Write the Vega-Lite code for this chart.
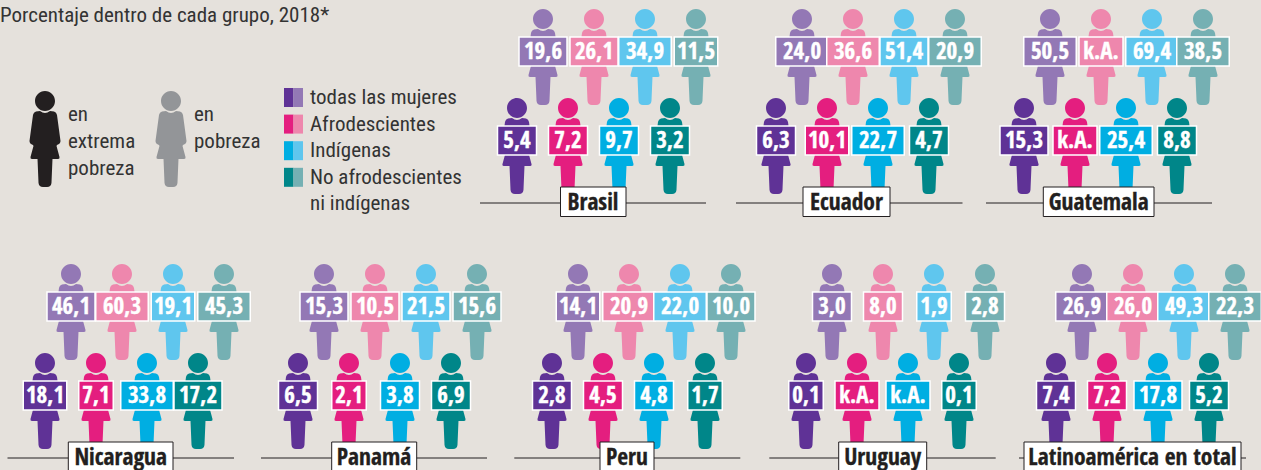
{"$schema":"https://vega.github.io/schema/vega-lite/v6.json","background":"#e5e1dc","padding":0,"spacing":0,
"data":{"values":[
{"pais":"Brasil","grupo":"todas las mujeres","nivel":"pobreza","valor":19.6},{"pais":"Brasil","grupo":"Afrodescientes","nivel":"pobreza","valor":26.1},{"pais":"Brasil","grupo":"Indígenas","nivel":"pobreza","valor":34.9},{"pais":"Brasil","grupo":"No afrodescientes","nivel":"pobreza","valor":11.5},
{"pais":"Brasil","grupo":"todas las mujeres","nivel":"extrema","valor":5.4},{"pais":"Brasil","grupo":"Afrodescientes","nivel":"extrema","valor":7.2},{"pais":"Brasil","grupo":"Indígenas","nivel":"extrema","valor":9.7},{"pais":"Brasil","grupo":"No afrodescientes","nivel":"extrema","valor":3.2},
{"pais":"Ecuador","grupo":"todas las mujeres","nivel":"pobreza","valor":24.0},{"pais":"Ecuador","grupo":"Afrodescientes","nivel":"pobreza","valor":36.6},{"pais":"Ecuador","grupo":"Indígenas","nivel":"pobreza","valor":51.4},{"pais":"Ecuador","grupo":"No afrodescientes","nivel":"pobreza","valor":20.9},
{"pais":"Ecuador","grupo":"todas las mujeres","nivel":"extrema","valor":6.3},{"pais":"Ecuador","grupo":"Afrodescientes","nivel":"extrema","valor":10.1},{"pais":"Ecuador","grupo":"Indígenas","nivel":"extrema","valor":22.7},{"pais":"Ecuador","grupo":"No afrodescientes","nivel":"extrema","valor":4.7},
{"pais":"Guatemala","grupo":"todas las mujeres","nivel":"pobreza","valor":50.5},{"pais":"Guatemala","grupo":"Afrodescientes","nivel":"pobreza","valor":null},{"pais":"Guatemala","grupo":"Indígenas","nivel":"pobreza","valor":69.4},{"pais":"Guatemala","grupo":"No afrodescientes","nivel":"pobreza","valor":38.5},
{"pais":"Guatemala","grupo":"todas las mujeres","nivel":"extrema","valor":15.3},{"pais":"Guatemala","grupo":"Afrodescientes","nivel":"extrema","valor":null},{"pais":"Guatemala","grupo":"Indígenas","nivel":"extrema","valor":25.4},{"pais":"Guatemala","grupo":"No afrodescientes","nivel":"extrema","valor":8.8},
{"pais":"Nicaragua","grupo":"todas las mujeres","nivel":"pobreza","valor":46.1},{"pais":"Nicaragua","grupo":"Afrodescientes","nivel":"pobreza","valor":60.3},{"pais":"Nicaragua","grupo":"Indígenas","nivel":"pobreza","valor":19.1},{"pais":"Nicaragua","grupo":"No afrodescientes","nivel":"pobreza","valor":45.3},
{"pais":"Nicaragua","grupo":"todas las mujeres","nivel":"extrema","valor":18.1},{"pais":"Nicaragua","grupo":"Afrodescientes","nivel":"extrema","valor":7.1},{"pais":"Nicaragua","grupo":"Indígenas","nivel":"extrema","valor":33.8},{"pais":"Nicaragua","grupo":"No afrodescientes","nivel":"extrema","valor":17.2},
{"pais":"Panamá","grupo":"todas las mujeres","nivel":"pobreza","valor":15.3},{"pais":"Panamá","grupo":"Afrodescientes","nivel":"pobreza","valor":10.5},{"pais":"Panamá","grupo":"Indígenas","nivel":"pobreza","valor":21.5},{"pais":"Panamá","grupo":"No afrodescientes","nivel":"pobreza","valor":15.6},
{"pais":"Panamá","grupo":"todas las mujeres","nivel":"extrema","valor":6.5},{"pais":"Panamá","grupo":"Afrodescientes","nivel":"extrema","valor":2.1},{"pais":"Panamá","grupo":"Indígenas","nivel":"extrema","valor":3.8},{"pais":"Panamá","grupo":"No afrodescientes","nivel":"extrema","valor":6.9},
{"pais":"Peru","grupo":"todas las mujeres","nivel":"pobreza","valor":14.1},{"pais":"Peru","grupo":"Afrodescientes","nivel":"pobreza","valor":20.9},{"pais":"Peru","grupo":"Indígenas","nivel":"pobreza","valor":22.0},{"pais":"Peru","grupo":"No afrodescientes","nivel":"pobreza","valor":10.0},
{"pais":"Peru","grupo":"todas las mujeres","nivel":"extrema","valor":2.8},{"pais":"Peru","grupo":"Afrodescientes","nivel":"extrema","valor":4.5},{"pais":"Peru","grupo":"Indígenas","nivel":"extrema","valor":4.8},{"pais":"Peru","grupo":"No afrodescientes","nivel":"extrema","valor":1.7},
{"pais":"Uruguay","grupo":"todas las mujeres","nivel":"pobreza","valor":3.0},{"pais":"Uruguay","grupo":"Afrodescientes","nivel":"pobreza","valor":8.0},{"pais":"Uruguay","grupo":"Indígenas","nivel":"pobreza","valor":1.9},{"pais":"Uruguay","grupo":"No afrodescientes","nivel":"pobreza","valor":2.8},
{"pais":"Uruguay","grupo":"todas las mujeres","nivel":"extrema","valor":0.1},{"pais":"Uruguay","grupo":"Afrodescientes","nivel":"extrema","valor":null},{"pais":"Uruguay","grupo":"Indígenas","nivel":"extrema","valor":null},{"pais":"Uruguay","grupo":"No afrodescientes","nivel":"extrema","valor":0.1},
{"pais":"Latinoamérica en total","grupo":"todas las mujeres","nivel":"pobreza","valor":26.9},{"pais":"Latinoamérica en total","grupo":"Afrodescientes","nivel":"pobreza","valor":26.0},{"pais":"Latinoamérica en total","grupo":"Indígenas","nivel":"pobreza","valor":49.3},{"pais":"Latinoamérica en total","grupo":"No afrodescientes","nivel":"pobreza","valor":22.3},
{"pais":"Latinoamérica en total","grupo":"todas las mujeres","nivel":"extrema","valor":7.4},{"pais":"Latinoamérica en total","grupo":"Afrodescientes","nivel":"extrema","valor":7.2},{"pais":"Latinoamérica en total","grupo":"Indígenas","nivel":"extrema","valor":17.8},{"pais":"Latinoamérica en total","grupo":"No afrodescientes","nivel":"extrema","valor":5.2}
]},
"transform":[
{"calculate":"indexof(['todas las mujeres','Afrodescientes','Indígenas','No afrodescientes'],datum.grupo)*51+(datum.nivel=='pobreza'?26:0)","as":"xc"},
{"calculate":"datum.nivel=='pobreza'?57:146","as":"yc"},
{"calculate":"datum.grupo+'|'+datum.nivel","as":"clave"},
{"calculate":"datum.valor==null?'k.A.':replace(format(datum.valor,'.1f'),'.',',')","as":"etiqueta"},
{"calculate":"datum.etiqueta=='k.A.'?44:(length(datum.etiqueta)-1)*13.5+12-4.5*(length(split(datum.etiqueta,'1'))-1)","as":"ancho"},
{"calculate":"datum.xc-datum.ancho/2","as":"x0"},{"calculate":"datum.xc+datum.ancho/2","as":"x1"},
{"calculate":"datum.yc-20","as":"y0"},{"calculate":"datum.yc+9","as":"y1"},{"calculate":"datum.yc-5.5","as":"yt"}
],
"vconcat":[
{"spacing":0,"hconcat":[
{"width":475,"height":255,"data":{"values":[{"grupo":"todas las mujeres","nivel":"extrema"},{"grupo":"todas las mujeres","nivel":"pobreza"},{"grupo":"Afrodescientes","nivel":"extrema"},{"grupo":"Afrodescientes","nivel":"pobreza"},{"grupo":"Indígenas","nivel":"extrema"},{"grupo":"Indígenas","nivel":"pobreza"},{"grupo":"No afrodescientes","nivel":"extrema"},{"grupo":"No afrodescientes","nivel":"pobreza"}]},
"transform":[{"calculate":"indexof(['todas las mujeres','Afrodescientes','Indígenas','No afrodescientes'],datum.grupo)","as":"fila"},{"calculate":"datum.grupo+'|'+datum.nivel","as":"clave"},{"calculate":"datum.nivel=='extrema'?284:293.5","as":"x0"},{"calculate":"datum.x0+9.5","as":"x1"},{"calculate":"88+26.6*datum.fila","as":"y0"},{"calculate":"datum.y0+19","as":"y1"}],
"layer":[
{"mark":"rect","encoding":{"x":{"field":"x0","type":"quantitative","scale":{"domain":[0,475],"nice":false}},"x2":{"field":"x1"},"y":{"field":"y0","type":"quantitative","scale":{"domain":[255,0],"nice":false}},"y2":{"field":"y1"},"color":{"field":"clave","type":"nominal"}}},
{"data":{"values":[{"titulo":"Porcentaje dentro de cada grupo, 2018*"}]},"mark":{"type":"text","style":"leyenda","fill":"#333333"},"encoding":{"x":{"datum":0},"y":{"datum":16},"text":{"field":"titulo"}}},
{"data":{"values":[{"linea":0,"texto":"todas las mujeres"},{"linea":1,"texto":"Afrodescientes"},{"linea":2,"texto":"Indígenas"},{"linea":3,"texto":"No afrodescientes"},{"linea":4,"texto":"ni indígenas"}]},"transform":[{"calculate":"98+26.6*datum.linea","as":"yl"}],"mark":{"type":"text","style":"leyenda","fill":"#333333"},"encoding":{"x":{"datum":310},"y":{"field":"yl","type":"quantitative"},"text":{"field":"texto"}}},
{"data":{"values":[{"nivel":"extrema"},{"nivel":"pobreza"}]},"transform":[{"calculate":"datum.nivel=='extrema'?45:171","as":"xp"}],"mark":"point","encoding":{"x":{"field":"xp","type":"quantitative"},"y":{"datum":139},"color":{"field":"nivel","type":"nominal","scale":{"domain":["extrema","pobreza"],"range":["#231f20","#939598"]}}}},
{"data":{"values":[{"nivel":"extrema","linea":0,"texto":"en"},{"nivel":"extrema","linea":1,"texto":"extrema"},{"nivel":"extrema","linea":2,"texto":"pobreza"},{"nivel":"pobreza","linea":0,"texto":"en"},{"nivel":"pobreza","linea":1,"texto":"pobreza"}]},"transform":[{"calculate":"datum.nivel=='extrema'?68:194","as":"xl"},{"calculate":"115+27*datum.linea","as":"yl"}],"mark":{"type":"text","style":"leyenda","fill":"#333333"},"encoding":{"x":{"field":"xl","type":"quantitative"},"y":{"field":"yl","type":"quantitative"},"text":{"field":"texto"}}}
],"resolve":{"scale":{"color":"independent"}}},
{"width":258,"height":255,"transform":[{"filter":"datum.pais=='Brasil'"}],"layer":[
{"mark":"point","encoding":{"x":{"field":"xc","type":"quantitative","scale":{"domain":[-42,216],"nice":false}},"y":{"field":"yc","type":"quantitative","scale":{"domain":[255,0],"nice":false}},"color":{"field":"clave","type":"nominal"}}},
{"mark":{"type":"rect","stroke":"#fff","strokeWidth":1.5},"encoding":{"x":{"field":"x0","type":"quantitative"},"x2":{"field":"x1"},"y":{"field":"y0","type":"quantitative"},"y2":{"field":"y1"},"color":{"field":"clave","type":"nominal"}}},
{"mark":{"type":"text","style":"valor","fill":"#ffffff","stroke":"#ffffff","strokeWidth":0.4},"encoding":{"x":{"field":"xc","type":"quantitative"},"y":{"field":"yt","type":"quantitative"},"text":{"field":"etiqueta"}}},
{"data":{"values":[{"pais":"Brasil"}]},"mark":{"type":"rule","color":"#231f20","strokeWidth":1},"encoding":{"x":{"datum":-37},"x2":{"datum":189},"y":{"datum":203}}},
{"data":{"values":[{"pais":"Brasil"}]},"mark":{"type":"rect","fill":"#fff","stroke":"#231f20","strokeWidth":1},"encoding":{"x":{"datum":43.5},"x2":{"datum":109},"y":{"datum":187},"y2":{"datum":216.5}}},
{"data":{"values":[{"pais":"Brasil"}]},"mark":{"type":"text","style":"nombre","fill":"#231f20","stroke":"#231f20","strokeWidth":0.3},"encoding":{"x":{"datum":76},"y":{"datum":203},"text":{"field":"pais"}}}
]},
{"width":249,"height":255,"transform":[{"filter":"datum.pais=='Ecuador'"}],"layer":[
{"mark":"point","encoding":{"x":{"field":"xc","type":"quantitative","scale":{"domain":[-43,206],"nice":false}},"y":{"field":"yc","type":"quantitative","scale":{"domain":[255,0],"nice":false}},"color":{"field":"clave","type":"nominal"}}},
{"mark":{"type":"rect","stroke":"#fff","strokeWidth":1.5},"encoding":{"x":{"field":"x0","type":"quantitative"},"x2":{"field":"x1"},"y":{"field":"y0","type":"quantitative"},"y2":{"field":"y1"},"color":{"field":"clave","type":"nominal"}}},
{"mark":{"type":"text","style":"valor","fill":"#ffffff","stroke":"#ffffff","strokeWidth":0.4},"encoding":{"x":{"field":"xc","type":"quantitative"},"y":{"field":"yt","type":"quantitative"},"text":{"field":"etiqueta"}}},
{"data":{"values":[{"pais":"Ecuador"}]},"mark":{"type":"rule","color":"#231f20","strokeWidth":1},"encoding":{"x":{"datum":-40},"x2":{"datum":186.5},"y":{"datum":203}}},
{"data":{"values":[{"pais":"Ecuador"}]},"mark":{"type":"rect","fill":"#fff","stroke":"#231f20","strokeWidth":1},"encoding":{"x":{"datum":27},"x2":{"datum":114},"y":{"datum":187},"y2":{"datum":216.5}}},
{"data":{"values":[{"pais":"Ecuador"}]},"mark":{"type":"text","style":"nombre","fill":"#231f20","stroke":"#231f20","strokeWidth":0.3},"encoding":{"x":{"datum":70.5},"y":{"datum":203},"text":{"field":"pais"}}}
]},
{"width":279,"height":255,"transform":[{"filter":"datum.pais=='Guatemala'"}],"layer":[
{"mark":"point","encoding":{"x":{"field":"xc","type":"quantitative","scale":{"domain":[-42,237],"nice":false}},"y":{"field":"yc","type":"quantitative","scale":{"domain":[255,0],"nice":false}},"color":{"field":"clave","type":"nominal"}}},
{"mark":{"type":"rect","stroke":"#fff","strokeWidth":1.5},"encoding":{"x":{"field":"x0","type":"quantitative"},"x2":{"field":"x1"},"y":{"field":"y0","type":"quantitative"},"y2":{"field":"y1"},"color":{"field":"clave","type":"nominal"}}},
{"mark":{"type":"text","style":"valor","fill":"#ffffff","stroke":"#ffffff","strokeWidth":0.4},"encoding":{"x":{"field":"xc","type":"quantitative"},"y":{"field":"yt","type":"quantitative"},"text":{"field":"etiqueta"}}},
{"data":{"values":[{"pais":"Guatemala"}]},"mark":{"type":"rule","color":"#231f20","strokeWidth":1},"encoding":{"x":{"datum":-38},"x2":{"datum":188},"y":{"datum":203}}},
{"data":{"values":[{"pais":"Guatemala"}]},"mark":{"type":"rect","fill":"#fff","stroke":"#231f20","strokeWidth":1},"encoding":{"x":{"datum":19.3},"x2":{"datum":130},"y":{"datum":187},"y2":{"datum":216.5}}},
{"data":{"values":[{"pais":"Guatemala"}]},"mark":{"type":"text","style":"nombre","fill":"#231f20","stroke":"#231f20","strokeWidth":0.3},"encoding":{"x":{"datum":74.7},"y":{"datum":203},"text":{"field":"pais"}}}
]}
]},
{"spacing":0,"hconcat":[
{"width":255,"height":215,"transform":[{"filter":"datum.pais=='Nicaragua'"}],"layer":[
{"mark":"point","encoding":{"x":{"field":"xc","type":"quantitative","scale":{"domain":[-45,210],"nice":false}},"y":{"field":"yc","type":"quantitative","scale":{"domain":[215,0],"nice":false}},"color":{"field":"clave","type":"nominal"}}},
{"mark":{"type":"rect","stroke":"#fff","strokeWidth":1.5},"encoding":{"x":{"field":"x0","type":"quantitative"},"x2":{"field":"x1"},"y":{"field":"y0","type":"quantitative"},"y2":{"field":"y1"},"color":{"field":"clave","type":"nominal"}}},
{"mark":{"type":"text","style":"valor","fill":"#ffffff","stroke":"#ffffff","strokeWidth":0.4},"encoding":{"x":{"field":"xc","type":"quantitative"},"y":{"field":"yt","type":"quantitative"},"text":{"field":"etiqueta"}}},
{"data":{"values":[{"pais":"Nicaragua"}]},"mark":{"type":"rule","color":"#231f20","strokeWidth":1},"encoding":{"x":{"datum":-37.5},"x2":{"datum":189},"y":{"datum":203}}},
{"data":{"values":[{"pais":"Nicaragua"}]},"mark":{"type":"rect","fill":"#fff","stroke":"#231f20","strokeWidth":1},"encoding":{"x":{"datum":23.3},"x2":{"datum":128},"y":{"datum":187},"y2":{"datum":217}}},
{"data":{"values":[{"pais":"Nicaragua"}]},"mark":{"type":"text","style":"nombre","fill":"#231f20","stroke":"#231f20","strokeWidth":0.3},"encoding":{"x":{"datum":75.7},"y":{"datum":203},"text":{"field":"pais"}}}
]},
{"width":254,"height":215,"transform":[{"filter":"datum.pais=='Panamá'"}],"layer":[
{"mark":"point","encoding":{"x":{"field":"xc","type":"quantitative","scale":{"domain":[-43,211],"nice":false}},"y":{"field":"yc","type":"quantitative","scale":{"domain":[215,0],"nice":false}},"color":{"field":"clave","type":"nominal"}}},
{"mark":{"type":"rect","stroke":"#fff","strokeWidth":1.5},"encoding":{"x":{"field":"x0","type":"quantitative"},"x2":{"field":"x1"},"y":{"field":"y0","type":"quantitative"},"y2":{"field":"y1"},"color":{"field":"clave","type":"nominal"}}},
{"mark":{"type":"text","style":"valor","fill":"#ffffff","stroke":"#ffffff","strokeWidth":0.4},"encoding":{"x":{"field":"xc","type":"quantitative"},"y":{"field":"yt","type":"quantitative"},"text":{"field":"etiqueta"}}},
{"data":{"values":[{"pais":"Panamá"}]},"mark":{"type":"rule","color":"#231f20","strokeWidth":1},"encoding":{"x":{"datum":-37},"x2":{"datum":189},"y":{"datum":203}}},
{"data":{"values":[{"pais":"Panamá"}]},"mark":{"type":"rect","fill":"#fff","stroke":"#231f20","strokeWidth":1},"encoding":{"x":{"datum":33.7},"x2":{"datum":118.7},"y":{"datum":187},"y2":{"datum":217}}},
{"data":{"values":[{"pais":"Panamá"}]},"mark":{"type":"text","style":"nombre","fill":"#231f20","stroke":"#231f20","strokeWidth":0.3},"encoding":{"x":{"datum":76},"y":{"datum":203},"text":{"field":"pais"}}}
]},
{"width":255,"height":215,"transform":[{"filter":"datum.pais=='Peru'"}],"layer":[
{"mark":"point","encoding":{"x":{"field":"xc","type":"quantitative","scale":{"domain":[-43,212],"nice":false}},"y":{"field":"yc","type":"quantitative","scale":{"domain":[215,0],"nice":false}},"color":{"field":"clave","type":"nominal"}}},
{"mark":{"type":"rect","stroke":"#fff","strokeWidth":1.5},"encoding":{"x":{"field":"x0","type":"quantitative"},"x2":{"field":"x1"},"y":{"field":"y0","type":"quantitative"},"y2":{"field":"y1"},"color":{"field":"clave","type":"nominal"}}},
{"mark":{"type":"text","style":"valor","fill":"#ffffff","stroke":"#ffffff","strokeWidth":0.4},"encoding":{"x":{"field":"xc","type":"quantitative"},"y":{"field":"yt","type":"quantitative"},"text":{"field":"etiqueta"}}},
{"data":{"values":[{"pais":"Peru"}]},"mark":{"type":"rule","color":"#231f20","strokeWidth":1},"encoding":{"x":{"datum":-37.7},"x2":{"datum":188.3},"y":{"datum":203}}},
{"data":{"values":[{"pais":"Peru"}]},"mark":{"type":"rect","fill":"#fff","stroke":"#231f20","strokeWidth":1},"encoding":{"x":{"datum":48},"x2":{"datum":102},"y":{"datum":187},"y2":{"datum":217}}},
{"data":{"values":[{"pais":"Peru"}]},"mark":{"type":"text","style":"nombre","fill":"#231f20","stroke":"#231f20","strokeWidth":0.3},"encoding":{"x":{"datum":75},"y":{"datum":203},"text":{"field":"pais"}}}
]},
{"width":250,"height":215,"transform":[{"filter":"datum.pais=='Uruguay'"}],"layer":[
{"mark":"point","encoding":{"x":{"field":"xc","type":"quantitative","scale":{"domain":[-42,208],"nice":false}},"y":{"field":"yc","type":"quantitative","scale":{"domain":[215,0],"nice":false}},"color":{"field":"clave","type":"nominal"}}},
{"mark":{"type":"rect","stroke":"#fff","strokeWidth":1.5},"encoding":{"x":{"field":"x0","type":"quantitative"},"x2":{"field":"x1"},"y":{"field":"y0","type":"quantitative"},"y2":{"field":"y1"},"color":{"field":"clave","type":"nominal"}}},
{"mark":{"type":"text","style":"valor","fill":"#ffffff","stroke":"#ffffff","strokeWidth":0.4},"encoding":{"x":{"field":"xc","type":"quantitative"},"y":{"field":"yt","type":"quantitative"},"text":{"field":"etiqueta"}}},
{"data":{"values":[{"pais":"Uruguay"}]},"mark":{"type":"rule","color":"#231f20","strokeWidth":1},"encoding":{"x":{"datum":-36.7},"x2":{"datum":189.7},"y":{"datum":203}}},
{"data":{"values":[{"pais":"Uruguay"}]},"mark":{"type":"rect","fill":"#fff","stroke":"#231f20","strokeWidth":1},"encoding":{"x":{"datum":32.7},"x2":{"datum":120.7},"y":{"datum":187},"y2":{"datum":217}}},
{"data":{"values":[{"pais":"Uruguay"}]},"mark":{"type":"text","style":"nombre","fill":"#231f20","stroke":"#231f20","strokeWidth":0.3},"encoding":{"x":{"datum":76.7},"y":{"datum":203},"text":{"field":"pais"}}}
]},
{"width":247,"height":215,"transform":[{"filter":"datum.pais=='Latinoamérica en total'"}],"layer":[
{"mark":"point","encoding":{"x":{"field":"xc","type":"quantitative","scale":{"domain":[-42,205],"nice":false}},"y":{"field":"yc","type":"quantitative","scale":{"domain":[215,0],"nice":false}},"color":{"field":"clave","type":"nominal"}}},
{"mark":{"type":"rect","stroke":"#fff","strokeWidth":1.5},"encoding":{"x":{"field":"x0","type":"quantitative"},"x2":{"field":"x1"},"y":{"field":"y0","type":"quantitative"},"y2":{"field":"y1"},"color":{"field":"clave","type":"nominal"}}},
{"mark":{"type":"text","style":"valor","fill":"#ffffff","stroke":"#ffffff","strokeWidth":0.4},"encoding":{"x":{"field":"xc","type":"quantitative"},"y":{"field":"yt","type":"quantitative"},"text":{"field":"etiqueta"}}},
{"data":{"values":[{"pais":"Latinoamérica en total"}]},"mark":{"type":"rule","color":"#231f20","strokeWidth":1},"encoding":{"x":{"datum":-37},"x2":{"datum":190},"y":{"datum":203}}},
{"data":{"values":[{"pais":"Latinoamérica en total"}]},"mark":{"type":"rect","fill":"#fff","stroke":"#231f20","strokeWidth":1},"encoding":{"x":{"datum":-32},"x2":{"datum":185},"y":{"datum":187},"y2":{"datum":217}}},
{"data":{"values":[{"pais":"Latinoamérica en total"}]},"mark":{"type":"text","style":"nombre","fill":"#231f20","stroke":"#231f20","strokeWidth":0.3},"encoding":{"x":{"datum":76.5},"y":{"datum":203},"text":{"field":"pais"}}}
]}
]}
],
"config":{
"view":{"stroke":null,"clip":true},
"axis":{"disable":true},
"legend":{"disable":true},
"range":{"category":["#e41e7f","#ee87ad","#00aee2","#5fc6ee","#008689","#75b0b3","#5f3296","#9378b5"]},
"point":{"filled":true,"opacity":1,"size":9216,"strokeWidth":0,"shape":"M-0.2083,-0.7917A0.2083,0.2083 0 1,1 0.2083,-0.7917A0.2083,0.2083 0 1,1 -0.2083,-0.7917ZM-0.104,-0.583Q0,-0.5 0.104,-0.583L0.1875,-0.573Q0.24,-0.5625 0.25,-0.5L0.323,0.042Q0.323,0.104 0.25,0.125L0.24,0.146L0.302,0.375Q0.3125,0.417 0.271,0.417L0.156,0.417L0.135,0.917Q0.125,1 0.042,1L-0.042,1Q-0.125,1 -0.135,0.917L-0.156,0.417L-0.271,0.417Q-0.3125,0.417 -0.302,0.375L-0.24,0.146L-0.25,0.125Q-0.323,0.104 -0.323,0.042L-0.25,-0.5Q-0.24,-0.5625 -0.1875,-0.573Z"},
"style":{
"valor":{"font":"Open Sans Condensed","fontWeight":"bold","fontSize":23,"align":"center","baseline":"middle"},
"nombre":{"font":"Open Sans Condensed","fontWeight":"bold","fontSize":23.5,"align":"center","baseline":"middle"},
"leyenda":{"font":"Roboto Condensed","fontSize":21,"align":"left","baseline":"middle"}
}
}}
